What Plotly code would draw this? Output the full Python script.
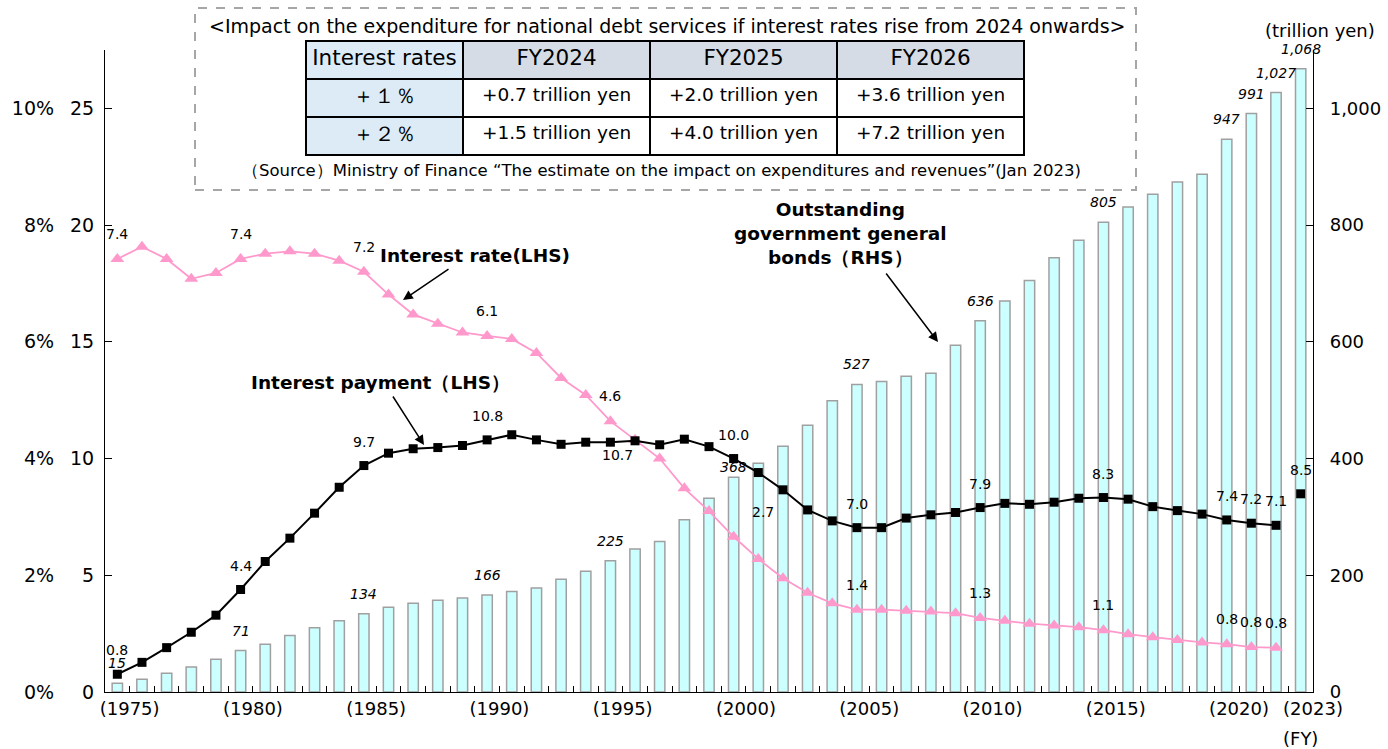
import plotly.graph_objects as go

years = list(range(1975, 2024))
bonds = [15, 22, 32, 43, 56, 71, 82, 97, 110, 122,
         134, 145, 152, 157, 161, 166, 172, 178, 193, 207,
         225, 245, 258, 295, 332, 368, 392, 421, 457, 499,
         527, 532, 541, 546, 594, 636, 670, 705, 744, 774,
         805, 831, 853, 874, 887, 947, 991, 1027, 1068]
payment = [0.76, 1.27, 1.9, 2.56, 3.29, 4.39, 5.59, 6.59, 7.66, 8.77,
           9.7, 10.23, 10.42, 10.47, 10.56, 10.8, 11.02, 10.8, 10.61, 10.7,
           10.7, 10.76, 10.59, 10.83, 10.51, 10.0, 9.4, 8.66, 7.8, 7.33,
           7.04, 7.04, 7.45, 7.59, 7.69, 7.9, 8.08, 8.04, 8.13, 8.3,
           8.33, 8.26, 7.94, 7.77, 7.62, 7.37, 7.23, 7.14, 8.49]
rate = [7.42, 7.63, 7.42, 7.08, 7.18, 7.42, 7.51, 7.55, 7.51, 7.39,
        7.2, 6.81, 6.47, 6.31, 6.16, 6.1, 6.05, 5.81, 5.38, 5.09,
        4.64, 4.32, 4.0, 3.49, 3.1, 2.66, 2.28, 1.95, 1.7, 1.52,
        1.41, 1.41, 1.39, 1.38, 1.35, 1.27, 1.22, 1.17, 1.14, 1.11,
        1.06, 0.99, 0.94, 0.89, 0.85, 0.82, 0.77, 0.76]
rate_years = years[:len(rate)]

bond_label_years = [1975, 1980, 1985, 1990, 1995, 2000, 2005, 2010, 2015, 2020, 2021, 2022, 2023]
payment_label_years = [1975, 1980, 1985, 1990, 1995, 2000, 2005, 2010, 2015, 2020, 2021, 2022, 2023]
rate_label_years = [1975, 1980, 1985, 1990, 1995, 2000, 2005, 2010, 2015, 2020, 2021, 2022]

xtick_years = [1975, 1980, 1985, 1990, 1995, 2000, 2005, 2010, 2015, 2020, 2023]
left_ticks = [0, 5, 10, 15, 20, 25]
left_pct = [0, 2, 4, 6, 8, 10]
right_ticks = [0, 200, 400, 600, 800, 1000]

table_header = ["Interest\u00a0rates", "FY2024", "FY2025", "FY2026"]
table_rows = ["＋１％", "＋２％"]
table_fy2024 = ["+0.7\u00a0trillion\u00a0yen", "+1.5\u00a0trillion\u00a0yen"]
table_fy2025 = ["+2.0\u00a0trillion\u00a0yen", "+4.0\u00a0trillion\u00a0yen"]
table_fy2026 = ["+3.6\u00a0trillion\u00a0yen", "+7.2\u00a0trillion\u00a0yen"]

FONT = "DejaVu Sans"

fig = go.Figure()

# bars on the base axis so they sit behind the lines
fig.add_trace(go.Bar(x=years, y=bonds, width=0.42, yaxis="y",
                     marker=dict(color="#CCFFFF", line=dict(color="#A0A0A0", width=1.5)),
                     showlegend=False, hoverinfo="x+y"))

# interest rate
fig.add_trace(go.Scatter(x=rate_years, y=rate, yaxis="y2", mode="lines+markers",
                         line=dict(color="#FF99CC", width=1.8),
                         marker=dict(symbol="triangle-up", size=12, color="#FF99CC"),
                         showlegend=False))

# interest payment (FY2023 budget shown unconnected)
fig.add_trace(go.Scatter(x=years[:-1], y=payment[:-1], yaxis="y3", mode="lines+markers",
                         line=dict(color="black", width=2),
                         marker=dict(symbol="square", size=9, color="black"),
                         showlegend=False))
fig.add_trace(go.Scatter(x=years[-1:], y=payment[-1:], yaxis="y3", mode="markers",
                         marker=dict(symbol="square", size=9, color="black"),
                         showlegend=False))

fig.add_trace(go.Table(
    domain=dict(x=[0.1664, 0.7608], y=[0.74, 0.9476]),
    columnwidth=[157, 187, 187, 187],
    header=dict(values=table_header, height=38, align="center",
                fill_color=["#DDEBF7", "#D6DCE5", "#D6DCE5", "#D6DCE5"],
                line=dict(color="black", width=2),
                font=dict(family=FONT, size=21.5, color="black")),
    cells=dict(values=[table_rows, table_fy2024, table_fy2025, table_fy2026],
               height=38, align="center",
               fill_color=[["#DDEBF7", "#DDEBF7"], "white", "white", "white"],
               line=dict(color="black", width=2),
               font=dict(family=FONT, size=[21, 18.5, 18.5, 18.5], color="black")),
))

small = dict(family=FONT, size=14, color="black")
annotations = []
for yr in bond_label_years:
    v = bonds[years.index(yr)]
    annotations.append(dict(x=yr, y=v, xref="x", yref="y", text=f"{v:,}", showarrow=False,
                            xanchor="center", yanchor="middle",
                            yshift=10 if yr == 2000 else 20,
                            font=dict(small, style="italic")))
for yr in rate_label_years:
    v = rate[rate_years.index(yr)]
    xs, ys = (29, 25) if yr == 2000 else (0, 25)
    annotations.append(dict(x=yr, y=v, xref="x", yref="y2", text=f"{v:.1f}", showarrow=False,
                            xanchor="center", yanchor="middle", xshift=xs, yshift=ys, font=small))
for yr in payment_label_years:
    v = payment[years.index(yr)]
    xs, ys = (7, -13) if yr == 1995 else (0, 24)
    annotations.append(dict(x=yr, y=v, xref="x", yref="y3", text=f"{v:.1f}", showarrow=False,
                            xanchor="center", yanchor="middle", xshift=xs, yshift=ys, font=small))


def px(x, y):
    return (x - 105) / 1208, (692 - y) / 687


def note(cx, cy, text, font):
    x, y = px(cx, cy)
    annotations.append(dict(x=x, y=y, xref="paper", yref="paper", text=text, showarrow=False,
                            xanchor="center", yanchor="middle", align="center", font=font))


bold = dict(family=FONT, size=18.5, color="black", weight="bold")
note(475, 255, "Interest rate(LHS)", bold)
note(380, 383, "Interest payment（LHS）", bold)
note(840, 233, "Outstanding<br>government general<br>bonds（RHS）", bold)
for (hx, hy), (tx, ty) in [((403, 300), (450, 268)), ((424, 445), (392, 395)), ((938, 342), (885, 272))]:
    x, y = px(hx, hy)
    annotations.append(dict(x=x, y=y, xref="paper", yref="paper", text="", showarrow=True,
                            ax=tx - hx, ay=ty - hy, arrowhead=2, arrowsize=1.3, arrowwidth=1.5,
                            arrowcolor="black"))

note(667, 26, "<Impact on the expenditure for national debt services if interest rates rise from 2024 onwards>",
     dict(family=FONT, size=19, color="black"))
note(661, 170, "（Source）Ministry of Finance “The estimate on the impact on expenditures and revenues”(Jan 2023)",
     dict(family=FONT, size=16.5, color="black"))
note(1320, 30, "(trillion yen)", dict(family=FONT, size=18, color="black"))
note(1300, 738, "(FY)", dict(family=FONT, size=18, color="black"))

x0, y0 = px(195, 190)
x1, y1 = px(1136, 8)
shapes = [dict(type="rect", xref="paper", yref="paper", x0=x0, y0=y0, x1=x1, y1=y1,
               line=dict(color="#A6A6A6", width=2, dash="dash"))]


def lab(p, v):
    pad = "\u2007" if v < 10 else ""
    return f"{p}%  \u2009{pad}{v}"


dom = [0, (692 - 50) / 687]
fig.update_layout(
    width=1388, height=749,
    margin=dict(l=105, r=75, t=5, b=57),
    paper_bgcolor="white", plot_bgcolor="white",
    font=dict(family=FONT, size=18, color="black"),
    xaxis=dict(range=[1974.5, 2023.5], tickvals=[y + 0.5 for y in years],
               ticktext=[f"({y})" if y in xtick_years else "" for y in years],
               ticks="inside", ticklen=6, tickcolor="black", showline=True, linecolor="black",
               linewidth=1.2, showgrid=False, zeroline=False, tickfont=dict(size=18)),
    yaxis=dict(range=[0, 1100], domain=dom, side="right", tickvals=right_ticks,
               ticktext=[f"{v:,}" for v in right_ticks], ticks="inside", ticklen=7,
               tickcolor="black", showline=True, linecolor="black", linewidth=1.2,
               showgrid=False, zeroline=False, anchor="x", ticklabelstandoff=12,
               tickfont=dict(size=18)),
    yaxis2=dict(range=[0, 11], overlaying="y", visible=False, anchor="x"),
    yaxis3=dict(range=[0, 27.5], overlaying="y", side="left", anchor="x", tickvals=left_ticks,
                ticktext=[lab(p, v) for p, v in zip(left_pct, left_ticks)], ticks="inside",
                ticklen=7, tickcolor="black", showline=True, linecolor="black", linewidth=1.2,
                showgrid=False, zeroline=False, ticklabelstandoff=6, tickfont=dict(size=19)),
    annotations=annotations,
    shapes=shapes,
)

fig.write_html("out.html", config={"displayModeBar": False},
               post_script="document.body.style.margin='0';")
